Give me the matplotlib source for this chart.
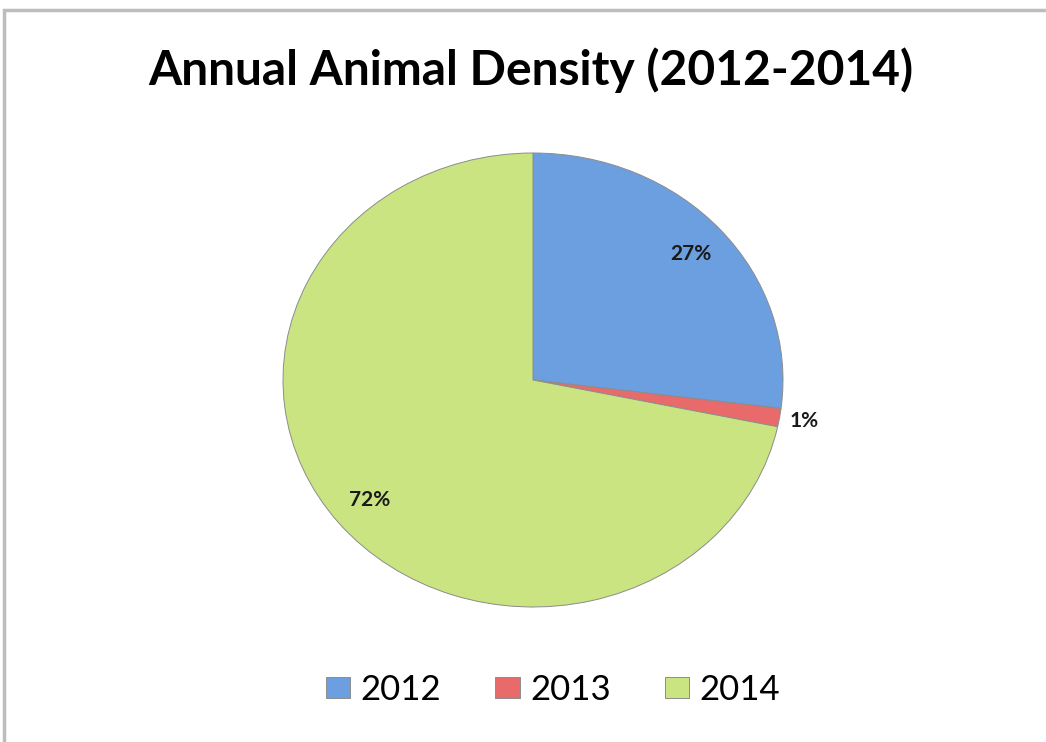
import matplotlib
matplotlib.use("Agg")
import matplotlib.pyplot as plt
from matplotlib.patches import Rectangle
import numpy as np

# data
years = ["2012", "2013", "2014"]
shares = [27.0, 1.3, 71.7]
colors = ["#6b9fe0", "#e86a6a", "#c9e480"]

plt.rcParams['font.family'] = ['Lato', 'DejaVu Sans']

fig = plt.figure(figsize=(10.46, 7.42), dpi=100)
W, H = 1046, 742

# pie is drawn a bit wider than tall, like the original
ax = fig.add_axes([283 / W, 1 - 607 / H, 500 / W, 454 / H])
wedges, texts, autotexts = ax.pie(
    shares, colors=colors, startangle=90, counterclock=False,
    autopct='%.0f%%', pctdistance=0.84,
    wedgeprops=dict(edgecolor='#8c8c8c', linewidth=0.7),
    textprops=dict(fontsize=15, fontweight='bold', color='#1a1a1a'))
ax.set_aspect('auto')
ax.set_xlim(-1, 1)
ax.set_ylim(-1, 1)

# small slice label goes outside the pie
w = wedges[1]
mid = np.deg2rad((w.theta1 + w.theta2) / 2)
autotexts[1].set_position((1.1 * np.cos(mid), 1.1 * np.sin(mid)))

fig.text(531 / W, 1 - 70 / H, "Annual Animal Density (2012-2014)",
         ha='center', va='center', fontsize=34.5, fontweight='bold')

fig.legend(wedges, years, loc='center', bbox_to_anchor=(553 / W, 1 - 690 / H),
           ncol=3, frameon=False, fontsize=25, handlelength=0.7, handleheight=0.55,
           handletextpad=0.3, columnspacing=1.55)

# grey frame of the chart area (top and left edges visible)
fig.add_artist(Rectangle((4 / W, -0.05), 1.1, 1.05 - 10 / H, transform=fig.transFigure,
                         fill=False, edgecolor='#bdbdbd', linewidth=2.5))

fig.savefig("out.png", dpi=100)
